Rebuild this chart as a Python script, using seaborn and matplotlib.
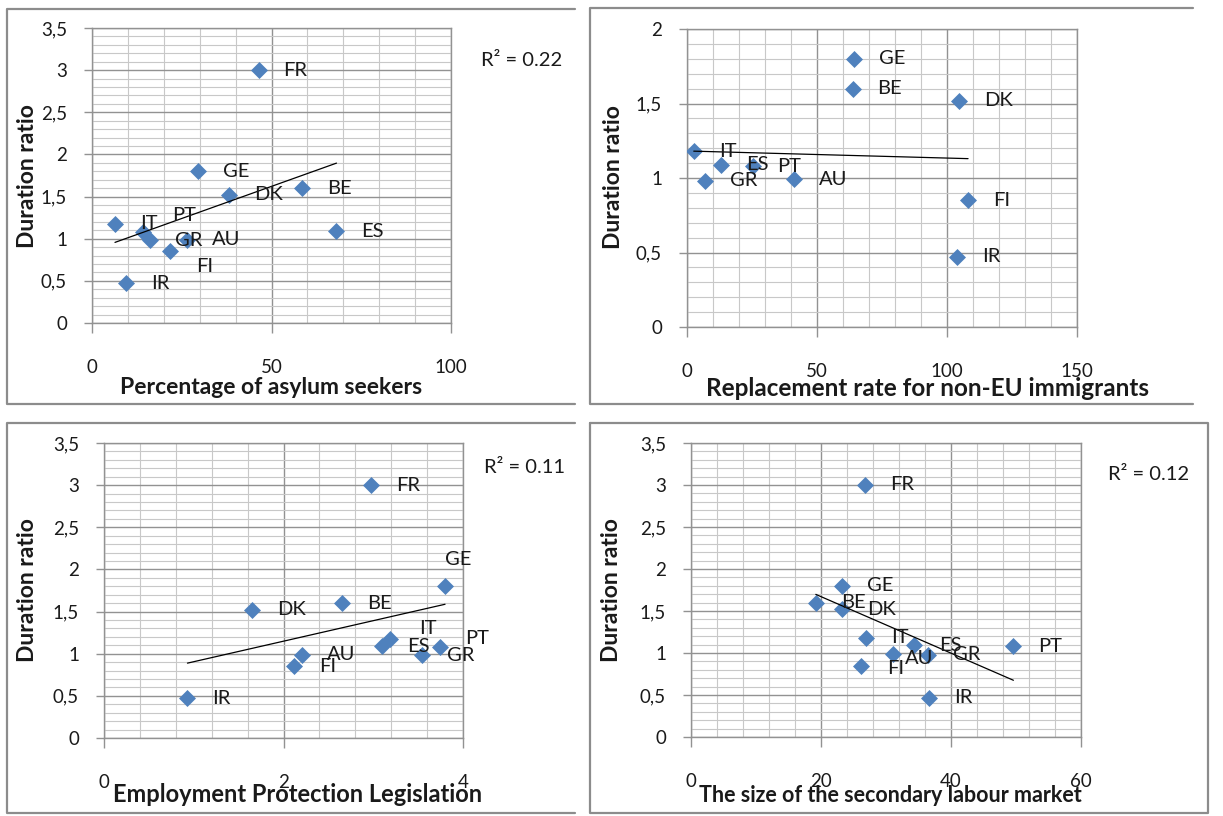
import numpy as np
import pandas as pd
import seaborn as sns
import matplotlib.pyplot as plt
from matplotlib.lines import Line2D
from matplotlib.ticker import MultipleLocator, FuncFormatter

# one duration ratio per country, one explanatory variable per panel
countries = ["FR", "GE", "BE", "DK", "IT", "ES", "PT", "GR", "AU", "FI", "IR"]
duration_ratio = [3.00, 1.80, 1.60, 1.52, 1.18, 1.09, 1.08, 0.98, 0.99, 0.85, 0.47]
asylum_seekers = [46.4, 29.5, 58.5, 38.3, 6.4, 68.1, 14.3, 16.2, 26.4, 21.7, 9.6]
replacement_rate = [np.nan, 64.2, 63.7, 104.6, 2.6, 13.0, 25.2, 6.9, 41.2, 108.1, 104.0]
employment_protection = [2.98, 3.80, 2.65, 1.65, 3.19, 3.10, 3.74, 3.54, 2.21, 2.12, 0.93]
secondary_market = [26.8, 23.3, 19.2, 23.3, 26.9, 34.3, 49.6, 36.5, 31.0, 26.1, 36.6]

x_titles = ["Percentage of asylum seekers", "Replacement rate for non-EU immigrants",
            "Employment Protection Legislation", "The size of the secondary labour market"]
r2_texts = ["R\u00b2 = 0.22", None, "R\u00b2 = 0.11", "R\u00b2 = 0.12"]

sns.set_theme(style="white")
plt.rcParams['font.family'] = ['Lato', 'DejaVu Sans']

W, H = 1223, 816
BLUE = "#4F81BD"
MINOR = "#c8c8c8"
MAJOR = "#929292"
FRAME = "#8c8c8c"


def fx(x):
    return x / W


def fy(y):
    return 1 - y / H


# layout in pixels: plot box (x0, x1, ytop, ybottom), label centres, R2 position
panels = [
    dict(x=asylum_seekers, box=(92, 451, 28, 323), xmax=100, ymax=3.5, xmaj=50, xmin=10,
         xlab=(271, 387), xsize=16.5, ylab=(27, 176), r2=(481, 61),
         shift={"PT": (21, 12), "FI": (19, -11)}),
    dict(x=replacement_rate, box=(687, 1077, 29, 327), xmax=150, ymax=2, xmaj=50, xmin=10,
         xlab=(927, 388), xsize=17.5, ylab=(613, 177), r2=None, shift={}),
    dict(x=employment_protection, box=(104, 463, 443, 738), xmax=4, ymax=3.5, xmaj=2, xmin=0.4,
         xlab=(298, 795), xsize=17, ylab=(28, 590), r2=(484, 468),
         shift={"GE": (0, 19), "IT": (21, 7), "PT": (18, 6)}),
    dict(x=secondary_market, box=(691, 1081, 443, 737), xmax=60, ymax=3.5, xmaj=20, xmin=4,
         xlab=(890, 795), xsize=15.5, ylab=(612, 590), r2=(1108, 474),
         shift={"AU": (9, -3), "FI": (19, -2)}),
]

fig = plt.figure(figsize=(W / 100, H / 100), dpi=100)

# grey chart frames
frames = [
    ([575, 7, 7, 575], [9, 9, 404, 404]),
    ([1193, 590, 590, 1193], [8, 8, 404, 404]),
    ([575, 7, 7, 575], [423, 423, 813, 813]),
    ([590, 1208, 1208, 590, 590], [423, 423, 813, 813, 423]),
]
for xs, ys in frames:
    fig.add_artist(Line2D([fx(v) for v in xs], [fy(v) for v in ys],
                          transform=fig.transFigure, color=FRAME, lw=1.6))

comma = FuncFormatter(lambda v, p: f"{v:g}".replace(".", ","))

for i, p in enumerate(panels):
    x0, x1, yt, yb = p["box"]
    ax = fig.add_axes([fx(x0), fy(yb), (x1 - x0) / W, (yb - yt) / H])
    df = pd.DataFrame({"country": countries, "x": p["x"], "y": duration_ratio}).dropna()

    sns.scatterplot(data=df, x="x", y="y", marker="D", s=75, color=BLUE,
                    linewidth=0, ax=ax, zorder=3)
    sns.regplot(data=df, x="x", y="y", scatter=False, ci=None, truncate=True,
                color="black", line_kws=dict(lw=0.9, zorder=4), ax=ax)

    for c, xv, yv in zip(df["country"], df["x"], df["y"]):
        dx, dy = p["shift"].get(c, (18, 0))
        ax.annotate(c, (xv, yv), xytext=(dx, dy), textcoords="offset points",
                    ha="left", va="center", fontsize=14.5, color="#1a1a1a", zorder=5)

    ax.set_xlim(0, p["xmax"])
    ax.set_ylim(0, p["ymax"])
    ax.xaxis.set_major_locator(MultipleLocator(p["xmaj"]))
    ax.xaxis.set_minor_locator(MultipleLocator(p["xmin"]))
    ax.yaxis.set_major_locator(MultipleLocator(0.5))
    ax.yaxis.set_minor_locator(MultipleLocator(0.1))
    ax.yaxis.set_major_formatter(comma)
    ax.set_axisbelow(True)
    ax.grid(which="minor", color=MINOR, lw=0.8)
    ax.grid(which="major", color=MAJOR, lw=1.0)
    for s in ax.spines.values():
        s.set_color(MAJOR)
        s.set_linewidth(1.0)
    ax.tick_params(which="minor", length=0)
    ax.tick_params(axis="x", which="major", direction="out", length=7, width=1,
                   color=MAJOR, pad=19, labelsize=13.5, labelcolor="#1a1a1a", bottom=True)
    ax.tick_params(axis="y", which="major", direction="out", length=6, width=1,
                   color=MAJOR, pad=12, labelsize=13.5, labelcolor="#1a1a1a", left=True)

    ax.set_xlabel(x_titles[i], fontsize=p["xsize"], fontweight="bold", color="#1a1a1a")
    ax.set_ylabel("Duration ratio", fontsize=16.5, fontweight="bold", color="#1a1a1a")
    ax.xaxis.set_label_coords(fx(p["xlab"][0]), fy(p["xlab"][1]), transform=fig.transFigure)
    ax.yaxis.set_label_coords(fx(p["ylab"][0]), fy(p["ylab"][1]), transform=fig.transFigure)
    ax.xaxis.label.set_va("center")
    ax.yaxis.label.set_va("center")

    if r2_texts[i]:
        fig.text(fx(p["r2"][0]), fy(p["r2"][1]), r2_texts[i], ha="left", va="center",
                 fontsize=14.5, color="#1a1a1a")

plt.savefig("out.png", dpi=100)
